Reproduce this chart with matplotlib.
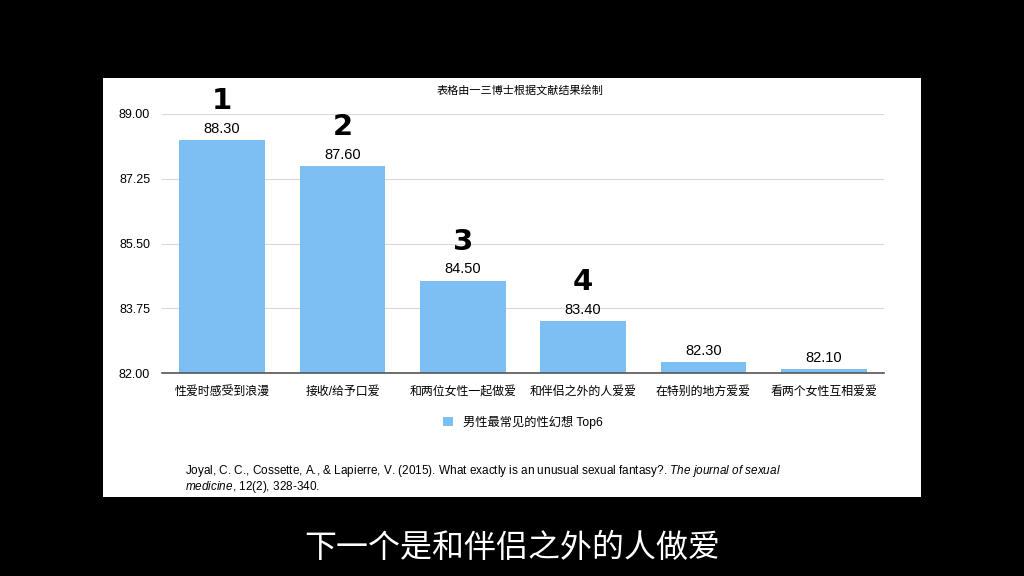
import matplotlib.pyplot as plt

categories = ["性爱时感受到浪漫", "接收/给予口爱", "和两位女性一起做爱",
              "和伴侣之外的人爱爱", "在特别的地方爱爱", "看两个女性互相爱爱"]
values = [88.30, 87.60, 84.50, 83.40, 82.30, 82.10]
ranks = ["1", "2", "3", "4"]
yticks = [82.00, 83.75, 85.50, 87.25, 89.00]

title = "表格由一三博士根据文献结果绘制"
series_name = "男性最常见的性幻想 Top6"
subtitle = "下一个是和伴侣之外的人做爱"

fonts = ["Liberation Sans", "Noto Sans CJK SC", "DejaVu Sans"]
plt.rcParams["font.family"] = fonts
plt.rcParams["mathtext.fontset"] = "custom"
plt.rcParams["mathtext.it"] = "Liberation Sans:italic"
plt.rcParams["mathtext.rm"] = "Liberation Sans"
bar_color = "#7DBFF2"

fig = plt.figure(figsize=(10.24, 5.76), dpi=100, facecolor="black")

# white panel behind chart
bg = fig.add_axes([103 / 1024, 1 - 497 / 576, 818 / 1024, 419 / 576], zorder=0)
bg.set_facecolor("white")
bg.set_xticks([])
bg.set_yticks([])
for s in bg.spines.values():
    s.set_visible(False)

ax = fig.add_axes([162 / 1024, 1 - 373 / 576, 722 / 1024, 259 / 576], zorder=1)
ax.set_facecolor("none")
x = range(len(categories))
bars = ax.bar(x, values, width=0.71, color=bar_color, zorder=3, label=series_name)
ax.set_xlim(-0.5, len(categories) - 0.5)
ax.set_ylim(82, 89)
ax.set_yticks(yticks)
ax.set_yticklabels([f"{v:.2f}" for v in yticks], fontsize=9)
ax.set_xticks(list(x))
ax.set_xticklabels(categories, fontsize=8.6)
ax.tick_params(length=0, pad=9)
ax.tick_params(axis="y", pad=8.5)
ax.grid(axis="y", color="#d9d9d9", linewidth=0.8, zorder=0)
for s in ["top", "right", "left"]:
    ax.spines[s].set_visible(False)
ax.spines["bottom"].set_color("#555555")
ax.spines["bottom"].set_linewidth(1.2)
ax.spines["bottom"].set_zorder(4)

for i, v in enumerate(values):
    ax.annotate(f"{v:.2f}", (i, v), xytext=(0, 3), textcoords="offset points",
                ha="center", va="bottom", fontsize=10.5)
for i, r in enumerate(ranks):
    ax.annotate(r, (i, values[i]), xytext=(0, 28), textcoords="offset points",
                ha="center", va="center", fontsize=21, fontweight="heavy",
                family="DejaVu Sans", annotation_clip=False)

fig.text(520 / 1024, 1 - 90 / 576, title, ha="center", va="center", fontsize=8,
         zorder=5)

ax.legend(loc="center", bbox_to_anchor=(0.5, 1 - (422 - 114) / 259),
          frameon=False, fontsize=8.8, handlelength=0.8, handleheight=0.8,
          handletextpad=0.8)

fig.text(185 / 1024, 1 - 471 / 576,
         "Joyal, C. C., Cossette, A., & Lapierre, V. (2015). What exactly is an unusual sexual fantasy?. "
         r"$\it{The\ journal\ of\ sexual}$", ha="left", va="center", fontsize=8.5,
         zorder=5)
fig.text(185 / 1024, 1 - 487 / 576, r"$\it{medicine}$, $\it{12}$(2), 328-340.",
         ha="left", va="center", fontsize=8.5, zorder=5)

fig.text(512 / 1024, 1 - 548 / 576, subtitle, ha="center", va="center",
         fontsize=23, color="white", family=["Noto Sans CJK SC", "DejaVu Sans"])

fig.savefig("out.png", dpi=100, facecolor="black")
